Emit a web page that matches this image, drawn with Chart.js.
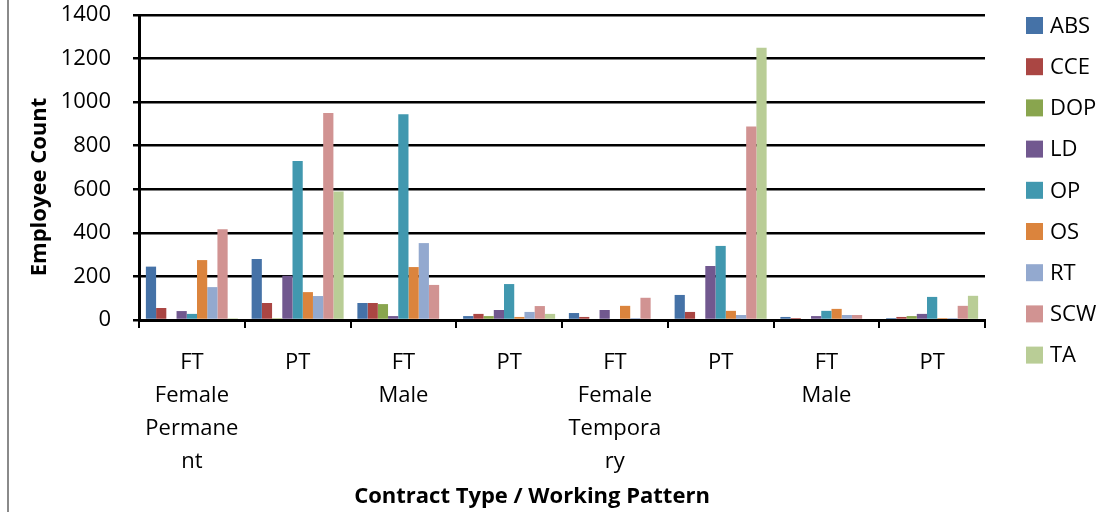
<!DOCTYPE html>
<html>
<head>
<meta charset="utf-8">
<script src="https://cdn.jsdelivr.net/npm/chart.js@4/dist/chart.umd.min.js"></script>
<style>
  body { margin: 0; background: #fff; }
  #wrap { width: 1102px; height: 512px; position: relative; }
</style>
</head>
<body>
<div id="wrap"><canvas id="chart" width="1102" height="512"></canvas></div>
<script>
// categories (wrapped the way the original axis wraps them)
const categories = [
  ['FT', 'Female', 'Permane', 'nt'], ['PT'],
  ['FT', 'Male'], ['PT'],
  ['FT', 'Female', 'Tempora', 'ry'], ['PT'],
  ['FT', 'Male'], ['PT']
]

const seriesNames = ['ABS', 'CCE', 'DOP', 'LD', 'OP', 'OS', 'RT', 'SCW', 'TA']

const ABS = [245, 280, 78, 18, 32, 115, 14, 9]
const CCE = [55, 78, 78, 28, 14, 37, 9, 14]
const DOP = [0, 8, 73, 18, 0, 0, 0, 18]
const LD = [41, 203, 18, 46, 46, 248, 18, 28]
const OP = [28, 730, 945, 165, 0, 340, 42, 106]
const OS = [275, 128, 243, 14, 65, 42, 51, 9]
const RT = [151, 110, 353, 37, 9, 23, 23, 9]
const SCW = [417, 950, 161, 64, 102, 888, 23, 65]
const TA = [8, 590, 0, 28, 0, 1250, 0, 111]

const seriesValues = [ABS, CCE, DOP, LD, OP, OS, RT, SCW, TA]

const colors = [
  '#4572A7', '#AA4643', '#89A54E', '#71588F', '#4198AF',
  '#DB843D', '#93A9CF', '#D19392', '#B9CD96'
]

const xTitle = 'Contract Type / Working Pattern'
const yTitle = 'Employee Count'

const FONT = "'Open Sans', sans-serif"

// legend on the right, drawn from the datasets
const sideLegend = {
  id: 'sideLegend',
  afterDraw(chart) {
    const ctx = chart.ctx
    ctx.save()
    ctx.font = '22px ' + FONT
    ctx.textBaseline = 'middle'
    ctx.textAlign = 'left'
    chart.data.datasets.forEach((ds, i) => {
      const cy = 25.5 + i * 41.2
      ctx.fillStyle = ds.backgroundColor
      ctx.fillRect(1026, cy - 8.5, 17, 17)
      ctx.fillStyle = '#000'
      ctx.fillText(ds.label, 1050, cy + 1)
    })
    ctx.restore()
  }
}

// axis titles: Excel centres them on the whole chart, not the plot area
const axisTitles = {
  id: 'axisTitles',
  afterDraw(chart) {
    const ctx = chart.ctx
    ctx.save()
    ctx.font = 'bold 22px ' + FONT
    ctx.fillStyle = '#000'
    ctx.textAlign = 'center'
    ctx.textBaseline = 'middle'
    ctx.fillText(xTitle, 532, 497)
    ctx.translate(40, 187)
    ctx.rotate(-Math.PI / 2)
    ctx.fillText(yTitle, 0, 0)
    ctx.restore()
  }
}

// grey frame line on the left edge
const frame = {
  id: 'frame',
  beforeDraw(chart) {
    const ctx = chart.ctx
    ctx.save()
    ctx.strokeStyle = '#8a8a8a'
    ctx.lineWidth = 2
    ctx.beginPath()
    ctx.moveTo(8, 0)
    ctx.lineTo(8, 512)
    ctx.stroke()
    ctx.restore()
  }
}

Chart.defaults.font.family = FONT
Chart.defaults.color = '#000'

new Chart(document.getElementById('chart'), {
  type: 'bar',
  data: {
    labels: categories,
    datasets: seriesNames.map((name, i) => ({
      label: name,
      data: seriesValues[i],
      backgroundColor: colors[i],
      borderWidth: 0,
      barPercentage: 1,
      categoryPercentage: 0.87
    }))
  },
  options: {
    responsive: false,
    animation: false,
    layout: {padding: {top: 15, right: 117, bottom: 0, left: 0}},
    plugins: {
      legend: {display: false},
      tooltip: {enabled: false}
    },
    scales: {
      x: {
        grid: {
          display: true,
          drawOnChartArea: false,
          drawTicks: true,
          tickLength: 8,
          color: '#000',
          lineWidth: 2
        },
        border: {color: '#000', width: 3},
        ticks: {
          autoSkip: false,
          maxRotation: 0,
          padding: 18,
          font: {size: 22, lineHeight: 1.5}
        },
        afterFit(scale) { scale.height = 192 }
      },
      y: {
        type: 'linear',
        min: 0,
        max: 1400,
        ticks: {
          stepSize: 200,
          padding: 22,
          font: {size: 22},
          callback: (v) => String(v)
        },
        grid: {
          display: true,
          drawOnChartArea: true,
          drawTicks: true,
          color: '#000',
          lineWidth: 2.5,
          tickLength: 6
        },
        border: {display: true, color: '#000', width: 3},
        afterFit(scale) {
          scale.width = 139
          scale.paddingTop = 0
          scale.paddingBottom = 0
        }
      }
    }
  },
  plugins: [frame, axisTitles, sideLegend]
})
</script>
</body>
</html>
